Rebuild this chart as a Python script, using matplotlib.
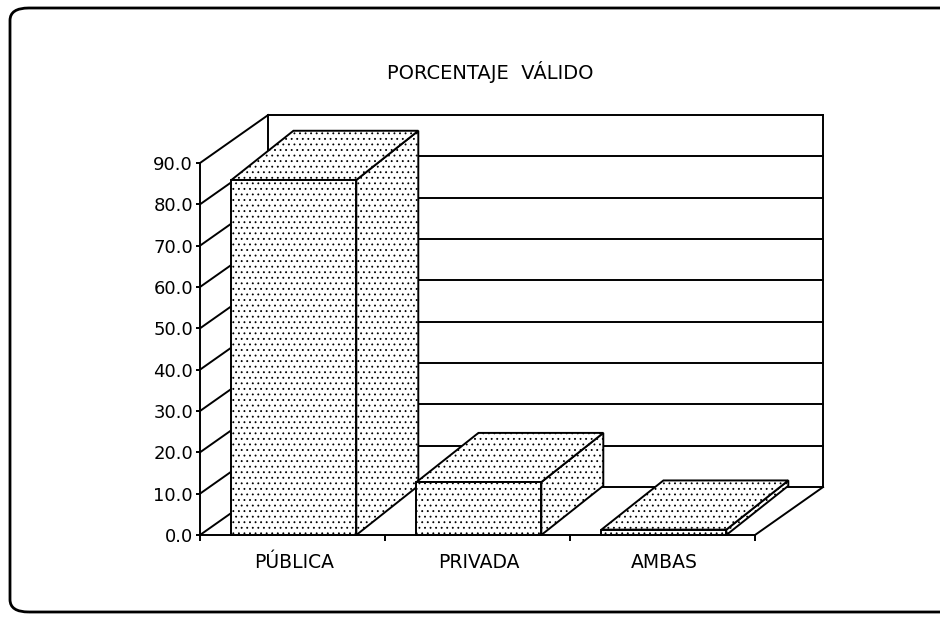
import matplotlib
matplotlib.use("Agg")
import matplotlib.pyplot as plt
from matplotlib.patches import Polygon, FancyBboxPatch

categories = ["PÚBLICA", "PRIVADA", "AMBAS"]
values = [85.9, 12.8, 1.3]
y_ticks = [0, 10, 20, 30, 40, 50, 60, 70, 80, 90]
title = "PORCENTAJE  VÁLIDO"

# oblique depth (data units)
WALL_DX, WALL_DY = 0.368, 11.6
BAR_DX, BAR_DY = 0.335, 11.9
BAR_OFF, BAR_W = 0.17, 0.675
LW = 1.4

plt.rcParams["hatch.linewidth"] = 0.6

fig = plt.figure(figsize=(9.4, 6.2), dpi=100)
fig.patches.append(FancyBboxPatch((10 / 940, 8 / 620), 960 / 940, 604 / 620,
                                  boxstyle="round,pad=0,rounding_size=0.02",
                                  transform=fig.transFigure, fill=False,
                                  edgecolor="black", linewidth=2.0))
fig.text(490 / 940, 1 - 72 / 620, title, ha="center", va="center", fontsize=14)

ax = fig.add_axes([200 / 940, 85 / 620, 555 / 940, 372 / 620])
ax.set_xlim(0, 3)
ax.set_ylim(0, 90)
ax.patch.set_visible(False)
for s in ("top", "right"):
    ax.spines[s].set_visible(False)
for s in ("left", "bottom"):
    ax.spines[s].set_linewidth(LW)

ax.set_yticks(y_ticks)
ax.set_yticklabels([f"{v:.1f}" for v in y_ticks])
ax.tick_params(axis="y", direction="out", length=3, width=LW, pad=2, labelsize=13)
ax.set_xticks(range(len(categories) + 1))
ax.set_xticklabels([])
ax.tick_params(axis="x", which="major", direction="out", length=4, width=LW)
ax.set_xticks([i + BAR_OFF + BAR_W / 2 for i in range(len(categories))], minor=True)
ax.set_xticklabels(categories, minor=True)
ax.tick_params(axis="x", which="minor", length=0, pad=13, labelsize=13.5)

n = len(categories)
line_kw = dict(color="black", linewidth=LW, clip_on=False, zorder=1)

# back wall
for v in y_ticks[1:]:
    ax.plot([WALL_DX, n + WALL_DX], [v + WALL_DY, v + WALL_DY], **line_kw)
ax.plot([WALL_DX, n + WALL_DX], [WALL_DY, WALL_DY], **line_kw)
ax.plot([n + WALL_DX, n + WALL_DX], [WALL_DY, y_ticks[-1] + WALL_DY], **line_kw)
# side wall
ax.plot([WALL_DX, WALL_DX], [WALL_DY, y_ticks[-1] + WALL_DY], **line_kw)
for v in y_ticks:
    ax.plot([0, WALL_DX], [v, v + WALL_DY], **line_kw)
# floor right edge
ax.plot([n, n + WALL_DX], [0, WALL_DY], **line_kw)

# bars
for i, v in enumerate(values):
    x0 = i + BAR_OFF
    x1 = x0 + BAR_W
    faces = [
        [(x1, 0), (x1 + BAR_DX, BAR_DY), (x1 + BAR_DX, v + BAR_DY), (x1, v)],
        [(x0, v), (x1, v), (x1 + BAR_DX, v + BAR_DY), (x0 + BAR_DX, v + BAR_DY)],
        [(x0, 0), (x1, 0), (x1, v), (x0, v)],
    ]
    for f in faces:
        ax.add_patch(Polygon(f, closed=True, facecolor="white", edgecolor="black",
                             hatch="...", linewidth=LW, clip_on=False, zorder=3 + i))

fig.savefig("out.png", dpi=100)
